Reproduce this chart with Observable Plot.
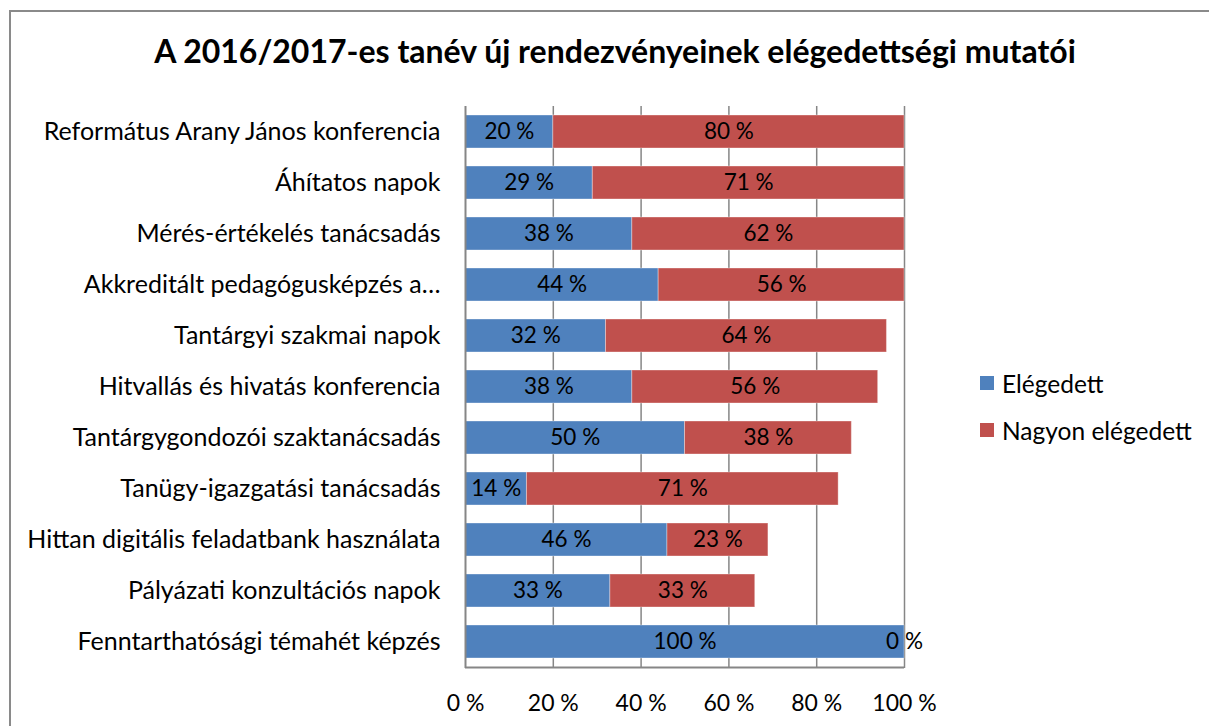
<!DOCTYPE html>
<html><head><meta charset="utf-8">
<script src="https://cdn.jsdelivr.net/npm/d3@7"></script>
<script src="https://cdn.jsdelivr.net/npm/@observablehq/plot@0.6"></script>
<style>
html,body{margin:0;padding:0;background:#fff;font-family:Lato,"Noto Sans",sans-serif;overflow:hidden;}
#wrap{position:relative;width:1209px;height:726px;overflow:hidden;background:#fff;}
#frame{position:absolute;left:9px;top:10px;width:1300px;height:800px;border-left:2px solid #8a8a8a;border-top:2px solid #8a8a8a;}
#title{position:absolute;left:0;width:1230px;top:31px;text-align:center;font-weight:bold;font-size:32px;line-height:40px;color:#000;}
#legend{position:absolute;left:980px;top:0;font-size:24.5px;color:#000;}
.li{position:absolute;left:0;display:flex;align-items:center;height:30px;white-space:nowrap;}
.sw{width:14px;height:14px;margin-right:8px;flex:none;}
#chart{position:absolute;left:0;top:0;}
</style></head>
<body>
<div id="wrap">
<div id="frame"></div>
<div id="chart"></div>
<div id="title">A 2016/2017-es tanév új rendezvényeinek elégedettségi mutatói</div>
<div id="legend"></div>
</div>
<script>
const categories = [
  "Református Arany János konferencia",
  "Áhítatos napok",
  "Mérés-értékelés tanácsadás",
  "Akkreditált pedagógusképzés a…",
  "Tantárgyi szakmai napok",
  "Hitvallás és hivatás konferencia",
  "Tantárgygondozói szaktanácsadás",
  "Tanügy-igazgatási tanácsadás",
  "Hittan digitális feladatbank használata",
  "Pályázati konzultációs napok",
  "Fenntarthatósági témahét képzés"
];
const series = ["Elégedett", "Nagyon elégedett"];
const elegedett = [20, 29, 38, 44, 32, 38, 50, 14, 46, 33, 100];
const nagyonElegedett = [80, 71, 62, 56, 64, 56, 38, 71, 23, 33, 0];
const xTicks = [0, 20, 40, 60, 80, 100];
const colors = ["#4F81BD", "#C0504D"];

const data = [];
categories.forEach((c, i) => {
  data.push({cat: c, series: series[0], value: elegedett[i]});
  data.push({cat: c, series: series[1], value: nagyonElegedett[i]});
});

const chart = Plot.plot({
  width: 1209,
  height: 726,
  marginTop: 106,
  marginBottom: 58,
  marginLeft: 465,
  marginRight: 305,
  style: {fontFamily: "Lato, 'Noto Sans', sans-serif", fontSize: "24px", color: "#000", background: "transparent", overflow: "visible"},
  x: {domain: [0, 100], ticks: xTicks, tickFormat: d => d + " %", label: null},
  y: {domain: categories, paddingInner: 0.352, paddingOuter: 0.176, label: null},
  color: {domain: series, range: colors},
  marks: [
    Plot.gridX(xTicks.slice(1), {stroke: "#868686", strokeOpacity: 1, strokeWidth: 1.5}),
    Plot.barX(data, Plot.stackX({x: "value", y: "cat", fill: "series", order: series, stroke: "#fff", strokeOpacity: 0.35, strokeWidth: 1})),
    Plot.text(data, Plot.stackX({x: "value", y: "cat", z: "series", order: series, text: d => d.value + " %", fill: "#000", fontSize: 22.5})),
    Plot.ruleX([0], {stroke: "#868686", strokeWidth: 2}),
    Plot.axisX({ticks: xTicks, tickFormat: d => d + " %", tickSize: 0, tickPadding: 26, fontSize: 23, label: null}),
    Plot.axisY({tickSize: 0, tickPadding: 25, fontSize: 25, label: null})
  ]
});
document.getElementById("chart").appendChild(chart);

// bottom axis line
d3.select(chart).append("line").attr("x1", 465).attr("x2", 904).attr("y1", 667.5).attr("y2", 667.5)
  .attr("stroke", "#868686").attr("stroke-width", 2);

const leg = document.getElementById("legend");
const legY = [368, 415];
series.forEach((s, i) => {
  const d = document.createElement("div"); d.className = "li"; d.style.top = legY[i] + "px";
  const sw = document.createElement("div"); sw.className = "sw"; sw.style.background = colors[i];
  const t = document.createElement("span"); t.textContent = s;
  d.appendChild(sw); d.appendChild(t); leg.appendChild(d);
});
</script>
</body></html>
